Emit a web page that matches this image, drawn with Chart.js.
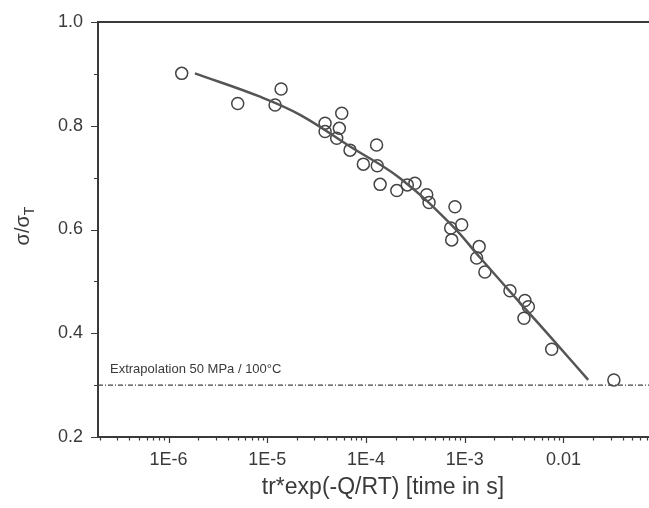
<!DOCTYPE html>
<html>
<head>
<meta charset="utf-8">
<script src="https://cdn.jsdelivr.net/npm/chart.js@4"></script>
<style>
  html, body { margin: 0; padding: 0; background: #fff; }
  #wrap { width: 649px; height: 508px; }
</style>
</head>
<body>
<div id="wrap"><canvas id="chart" width="649" height="508"></canvas></div>
<script>
// measured points (x = tr*exp(-Q/RT) in s, y = sigma/sigma_T)
const pointX = [1.36e-6, 5.02e-6, 1.20e-5, 1.38e-5, 3.85e-5, 3.85e-5, 5.68e-5, 5.37e-5,
  5.05e-5, 6.89e-5, 1.28e-4, 9.40e-5, 1.30e-4, 1.39e-4, 2.05e-4, 2.62e-4, 3.13e-4,
  4.12e-4, 4.35e-4, 7.96e-4, 7.21e-4, 9.31e-4, 7.38e-4, 1.40e-3, 1.32e-3, 1.60e-3,
  2.87e-3, 4.07e-3, 4.41e-3, 3.98e-3, 7.60e-3, 0.0324];
const pointY = [0.901, 0.843, 0.840, 0.871, 0.805, 0.789, 0.824, 0.795,
  0.776, 0.753, 0.763, 0.726, 0.723, 0.687, 0.675, 0.686, 0.689,
  0.667, 0.652, 0.644, 0.603, 0.609, 0.580, 0.567, 0.545, 0.518,
  0.482, 0.463, 0.451, 0.429, 0.369, 0.310];

// fitted curve
const fitX = [1.85e-6, 8.45e-6, 2.15e-5, 6.89e-5, 2.21e-4, 7.33e-4, 1.44e-3, 4.07e-3, 8.13e-3, 0.0178];
const fitY = [0.901, 0.856, 0.821, 0.760, 0.699, 0.609, 0.545, 0.448, 0.384, 0.310];

// extrapolation level
const refLevel = 0.30;
const refText = 'Extrapolation 50 MPa / 100°C';

const xMin = 1.93e-7, xMax = 0.0735;
const xTickValues = [1e-6, 1e-5, 1e-4, 1e-3, 0.01];
const xTickLabels = ['1E-6', '1E-5', '1E-4', '1E-3', '0.01'];
const decades = [-7, -6, -5, -4, -3, -2, -1];
const yMin = 0.2, yMax = 1.0;

const FONT = '"Liberation Sans", Arial, sans-serif';
const INK = '#3a3a3a';

const isPow10 = v => Math.abs(Math.log10(v) - Math.round(Math.log10(v))) < 1e-6;

const decor = {
  id: 'decor',
  afterDraw(chart) {
    const { ctx, chartArea: a, scales: { x, y } } = chart;
    ctx.save();
    ctx.strokeStyle = INK;
    // top frame line
    ctx.lineWidth = 2;
    ctx.beginPath();
    ctx.moveTo(a.left - 1, a.top);
    ctx.lineTo(a.right, a.top);
    ctx.stroke();
    // tick marks
    ctx.lineWidth = 1.2;
    ctx.beginPath();
    x.ticks.forEach(t => {
      const px = Math.round(x.getPixelForValue(t.value)) + 0.5;
      const len = isPow10(t.value) ? 6 : 3.5;
      ctx.moveTo(px, a.bottom);
      ctx.lineTo(px, a.bottom + len);
    });
    y.ticks.forEach(t => {
      const py = Math.round(y.getPixelForValue(t.value)) + 0.5;
      const len = Math.round(t.value * 10) % 2 === 0 ? 7 : 4;
      ctx.moveTo(a.left, py);
      ctx.lineTo(a.left - len, py);
    });
    ctx.stroke();

    // extrapolation label
    ctx.fillStyle = INK;
    ctx.font = '13px ' + FONT;
    ctx.textBaseline = 'alphabetic';
    ctx.textAlign = 'left';
    ctx.fillText(refText, a.left + 12, y.getPixelForValue(refLevel) - 12);

    // x axis title
    ctx.font = '23px ' + FONT;
    ctx.textAlign = 'center';
    ctx.textBaseline = 'middle';
    ctx.fillText('tr*exp(-Q/RT) [time in s]', 383, 488);

    // y axis title with subscript
    ctx.translate(24, 226);
    ctx.rotate(-Math.PI / 2);
    ctx.font = '20px ' + FONT;
    const main = 'σ/σ';
    const w1 = ctx.measureText(main).width;
    ctx.font = '14px ' + FONT;
    const w2 = ctx.measureText('T').width;
    const start = -(w1 + w2) / 2;
    ctx.textAlign = 'left';
    ctx.textBaseline = 'alphabetic';
    ctx.font = '20px ' + FONT;
    ctx.fillText(main, start, 5);
    ctx.font = '14px ' + FONT;
    ctx.fillText('T', start + w1, 10);
    ctx.restore();
  }
};

new Chart(document.getElementById('chart').getContext('2d'), {
  type: 'scatter',
  data: {
    datasets: [
      {
        label: 'reference',
        data: [{ x: xMin, y: refLevel }, { x: xMax, y: refLevel }],
        showLine: true,
        borderColor: '#444',
        borderWidth: 1.2,
        borderDash: [5, 2, 1, 2],
        pointRadius: 0
      },
      {
        label: 'fit',
        data: fitX.map((v, i) => ({ x: v, y: fitY[i] })),
        showLine: true,
        borderColor: '#555',
        borderWidth: 2.5,
        tension: 0.4,
        pointRadius: 0
      },
      {
        label: 'data',
        data: pointX.map((v, i) => ({ x: v, y: pointY[i] })),
        pointRadius: 6,
        pointBorderWidth: 1.5,
        borderColor: '#444',
        backgroundColor: 'rgba(0,0,0,0)',
        pointBackgroundColor: 'rgba(0,0,0,0)'
      }
    ]
  },
  options: {
    responsive: false,
    animation: false,
    layout: { autoPadding: false, padding: { top: 22, right: 0, left: 0, bottom: 0 } },
    plugins: { legend: { display: false }, tooltip: { enabled: false } },
    scales: {
      x: {
        type: 'logarithmic',
        min: xMin,
        max: xMax,
        afterBuildTicks: scale => {
          const ticks = [];
          decades.forEach(e => {
            for (let m = 1; m <= 9; m++) {
              const v = m * Math.pow(10, e);
              if (v >= xMin && v <= xMax) ticks.push({ value: v });
            }
          });
          scale.ticks = ticks;
        },
        afterFit: scale => {
          scale.height = 71;
          scale.paddingLeft = 0;
          scale.paddingRight = 0;
        },
        grid: { display: false, drawTicks: false },
        border: { display: true, color: INK, width: 2 },
        ticks: {
          autoSkip: false,
          maxRotation: 0,
          padding: 12,
          color: INK,
          font: { family: FONT, size: 18 },
          callback: value => {
            const i = xTickValues.findIndex(t => Math.abs(Math.log10(t) - Math.log10(value)) < 1e-6);
            return i >= 0 ? xTickLabels[i] : '';
          }
        }
      },
      y: {
        min: yMin,
        max: yMax,
        afterFit: scale => {
          scale.width = 98;
          scale.paddingTop = 0;
          scale.paddingBottom = 0;
        },
        grid: { display: false, drawTicks: false },
        border: { display: true, color: INK, width: 2 },
        ticks: {
          stepSize: 0.1,
          padding: 15,
          color: INK,
          font: { family: FONT, size: 18 },
          callback: v => (Math.round(v * 10) % 2 === 0 ? v.toFixed(1) : '')
        }
      }
    }
  },
  plugins: [decor]
});
</script>
</body>
</html>
